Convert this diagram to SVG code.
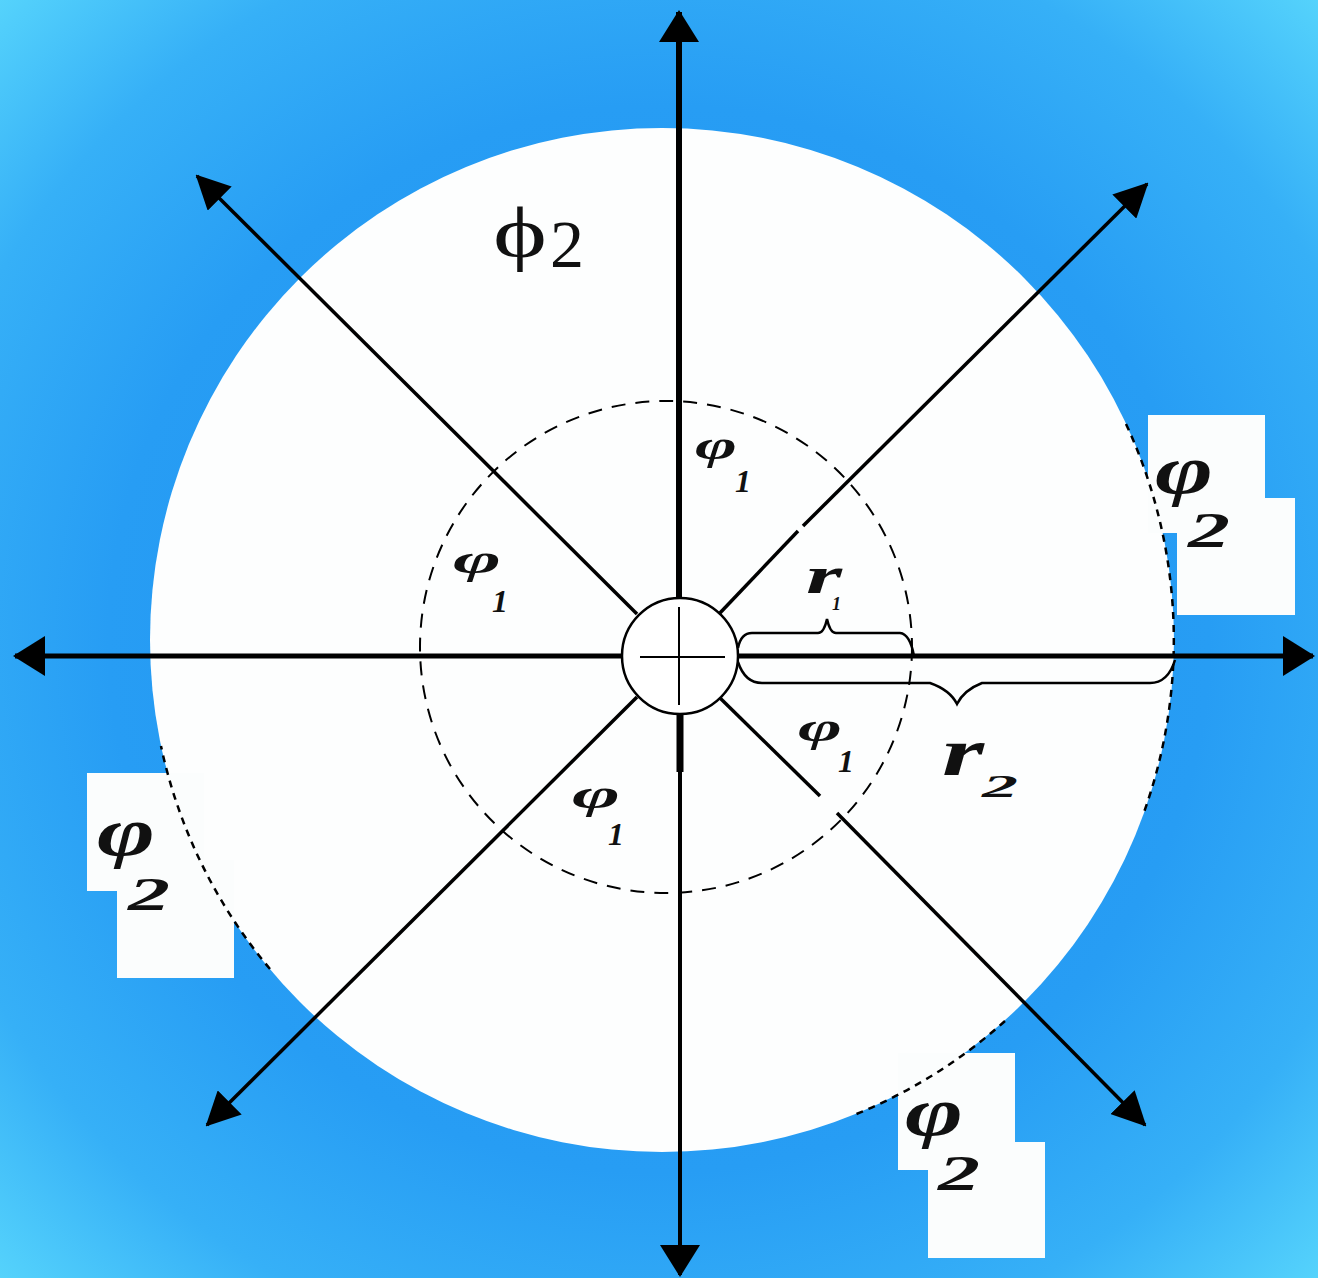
<svg xmlns="http://www.w3.org/2000/svg" width="1318" height="1278" viewBox="0 0 1318 1278">
<defs>
<radialGradient id="bg" cx="50%" cy="50%" r="72%">
<stop offset="0" stop-color="#1f92f0"/>
<stop offset="0.58" stop-color="#279df4"/>
<stop offset="0.8" stop-color="#36b0f7"/>
<stop offset="1" stop-color="#58d6fc"/>
</radialGradient>
<marker id="ah" viewBox="0 0 32 40" refX="30" refY="20" markerWidth="32" markerHeight="40" markerUnits="userSpaceOnUse" orient="auto-start-reverse">
<path d="M0,0 L32,20 L0,40 z" fill="#000"/>
</marker>
<marker id="ahd" viewBox="0 0 34 34" refX="32" refY="17" markerWidth="34" markerHeight="34" markerUnits="userSpaceOnUse" orient="auto">
<path d="M0,0 L34,17 L0,34 z" fill="#000"/>
</marker>
<style>
.ax{stroke:#000;fill:none;stroke-linecap:butt}
.dg{stroke:#000;stroke-width:3.5;fill:none}
.br{stroke:#000;stroke-width:2.5;fill:none}
.edge{stroke:#000;stroke-width:2.5;fill:none;stroke-dasharray:7 6}
.box{fill:#fbfdfd}
.t{font-family:"Liberation Serif",serif;fill:#111}
.bi{font-weight:bold;font-style:italic}
</style>
</defs>
<rect width="1318" height="1278" fill="url(#bg)"/>
<g id="outer-circle">
<circle cx="662" cy="640" r="512" fill="#fdfefe"/>
</g>
<g id="label-boxes">
<rect class="box" x="1148" y="415" width="117" height="118"/>
<rect class="box" x="1177" y="498" width="118" height="117"/>
<rect class="box" x="87" y="773" width="117" height="118"/>
<rect class="box" x="117" y="860" width="117" height="118"/>
<rect class="box" x="898" y="1053" width="117" height="117"/>
<rect class="box" x="928" y="1142" width="117" height="116"/>
</g>
<g id="outer-edge">
<path class="edge" d="M1126,424 A512,512 0 0 1 1143,815"/>
<path class="edge" d="M270,969 A512,512 0 0 1 161,746"/>
<path class="edge" d="M1005,1021 A512,512 0 0 1 854,1115"/>
</g>
<g id="inner-circle">
<circle cx="666" cy="647" r="246" fill="none" stroke="#000" stroke-width="2" stroke-dasharray="14 10"/>
</g>
<g id="connectors">
<line class="ax" x1="679" y1="598" x2="679" y2="12" stroke-width="6" marker-end="url(#ah)"/>
<line class="ax" x1="680" y1="713" x2="680" y2="772" stroke-width="7"/>
<line class="ax" x1="680" y1="770" x2="680" y2="1275" stroke-width="4" marker-end="url(#ah)"/>
<line class="ax" x1="622" y1="656" x2="15" y2="656" stroke-width="5" marker-end="url(#ah)"/>
<line class="ax" x1="738" y1="656" x2="1313" y2="656" stroke-width="5" marker-end="url(#ah)"/>
<line class="dg" x1="637" y1="614" x2="197" y2="176" marker-end="url(#ahd)"/>
<line class="dg" x1="719" y1="614" x2="798" y2="531"/>
<line class="dg" x1="803" y1="526" x2="1147" y2="184" marker-end="url(#ahd)"/>
<line class="dg" x1="719" y1="697" x2="820" y2="796"/>
<line class="dg" x1="837" y1="813" x2="1145" y2="1125" marker-end="url(#ahd)"/>
<line class="dg" x1="637" y1="697" x2="207" y2="1125" marker-end="url(#ahd)"/>
<path class="br" d="M738,648 Q741,633 752,633 L818,633 Q824,633 827,619 Q830,633 836,633 L900,633 Q910,634 914,656"/>
<path class="br" d="M738,662 Q745,683 762,683 L930,683 Q950,690 957,704 Q964,690 982,683 L1150,683 Q1168,683 1175,660"/>
</g>
<g id="center">
<circle cx="680" cy="656" r="58" fill="#fff" stroke="#000" stroke-width="2.5"/>
<line x1="640" y1="657" x2="725" y2="657" stroke="#000" stroke-width="2"/>
<line x1="679" y1="607" x2="679" y2="705" stroke="#000" stroke-width="2"/>
</g>
<g id="labels">
<text class="t" x="493" y="257" font-size="72" textLength="54" lengthAdjust="spacingAndGlyphs">ϕ</text>
<text class="t" x="550" y="267" font-size="68">2</text>
<text class="t bi" x="695" y="459" font-size="40" textLength="42" lengthAdjust="spacingAndGlyphs">φ</text>
<text class="t bi" x="735" y="492" font-size="32">1</text>
<text class="t bi" x="453" y="573" font-size="40" textLength="48" lengthAdjust="spacingAndGlyphs">φ</text>
<text class="t bi" x="492" y="612" font-size="32">1</text>
<text class="t bi" x="798" y="741" font-size="40" textLength="44" lengthAdjust="spacingAndGlyphs">φ</text>
<text class="t bi" x="838" y="772" font-size="32">1</text>
<text class="t bi" x="572" y="808" font-size="40" textLength="48" lengthAdjust="spacingAndGlyphs">φ</text>
<text class="t bi" x="608" y="845" font-size="32">1</text>
<text class="t bi" x="806" y="593" font-size="52" textLength="36" lengthAdjust="spacingAndGlyphs">r</text>
<text class="t bi" x="832" y="610" font-size="18">1</text>
<text class="t bi" x="942" y="775" font-size="68" textLength="42" lengthAdjust="spacingAndGlyphs">r</text>
<text class="t bi" x="982" y="797" font-size="32" textLength="36" lengthAdjust="spacingAndGlyphs">2</text>
<text class="t bi" x="1155" y="493" font-size="68" textLength="58" lengthAdjust="spacingAndGlyphs">φ</text>
<text class="t bi" x="1188" y="547" font-size="50" textLength="42" lengthAdjust="spacingAndGlyphs">2</text>
<text class="t bi" x="97" y="855" font-size="68" textLength="58" lengthAdjust="spacingAndGlyphs">φ</text>
<text class="t bi" x="128" y="910" font-size="46" textLength="42" lengthAdjust="spacingAndGlyphs">2</text>
<text class="t bi" x="905" y="1135" font-size="68" textLength="58" lengthAdjust="spacingAndGlyphs">φ</text>
<text class="t bi" x="938" y="1190" font-size="50" textLength="42" lengthAdjust="spacingAndGlyphs">2</text>
</g>
</svg>
